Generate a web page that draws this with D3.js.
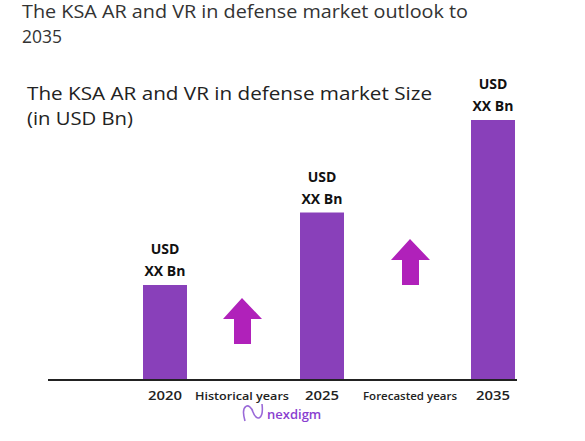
<!DOCTYPE html>
<html><head><meta charset="utf-8">
<script src="https://cdn.jsdelivr.net/npm/d3@7"></script>
<style>body{margin:0;background:#fff}text{font-family:"Open Sans",sans-serif}</style>
</head><body><svg id="c" width="585" height="441"></svg>
<script>
var years = ["2020", "2025", "2035"];
var values = [1.9, 3.35, 5.2];
var valueLabels = ["XX Bn", "XX Bn", "XX Bn"];
var gapLabels = ["Historical years", "Forecasted years"];
var arrowLevels = [1.64, 2.82]; // arrow tip heights, same units as values

var svg = d3.select("#c");
var base = 380;
var y = d3.scaleLinear().domain([0, 5.2]).range([base, 120]);
// bands: bar, gap, bar, gap, bar
var x = d3.scaleOrdinal().domain(["2020", gapLabels[0], "2025", gapLabels[1], "2035"])
    .range([165, 242, 322, 410, 493]);
var barW = 44;

function title(txt, tx, ty, len, col) {
  svg.append("text").attr("x", tx).attr("y", ty).attr("font-size", 17.5).attr("fill", col)
      .attr("textLength", len).attr("lengthAdjust", "spacingAndGlyphs").text(txt);
}
title("The KSA AR and VR in defense market outlook to", 22, 18, 446, "#333");
title("2035", 22, 43, 40, "#333");
title("The KSA AR and VR in defense market Size", 27, 100, 405, "#222");
title("(in USD Bn)", 27, 125, 106, "#222");

svg.selectAll("rect.bar").data(years).enter().append("rect").attr("class", "bar")
    .attr("x", function(d) { return x(d) - barW / 2; })
    .attr("y", function(d, i) { return y(values[i]); })
    .attr("width", barW)
    .attr("height", function(d, i) { return base - y(values[i]); })
    .attr("fill", "#8940ba");

years.forEach(function(d, i) {
  var t = y(values[i]);
  svg.append("text").attr("x", x(d)).attr("y", t - 31).attr("text-anchor", "middle")
      .attr("font-size", 14).attr("font-weight", "bold").attr("fill", "#111").text("USD");
  svg.append("text").attr("x", x(d)).attr("y", t - 9).attr("text-anchor", "middle")
      .attr("font-size", 14).attr("font-weight", "bold").attr("fill", "#111").text(valueLabels[i]);
});

// arrows
gapLabels.forEach(function(g, i) {
  var cx = x(g), tip = y(arrowLevels[i]);
  svg.append("path").attr("fill", "#b021ba")
    .attr("d", "M" + cx + "," + tip + "L" + (cx + 20) + "," + (tip + 21) + "L" + (cx + 9) + "," + (tip + 21) +
      "L" + (cx + 9) + "," + (tip + 46) + "L" + (cx - 8) + "," + (tip + 46) + "L" + (cx - 8) + "," + (tip + 21) +
      "L" + (cx - 19) + "," + (tip + 21) + "Z");
});

svg.append("line").attr("x1", 48).attr("x2", 517).attr("y1", base).attr("y2", base)
    .attr("stroke", "#222").attr("stroke-width", 2);

x.domain().forEach(function(d) {
  var isYear = years.indexOf(d) >= 0;
  svg.append("text").attr("x", x(d)).attr("y", 400).attr("text-anchor", "middle")
      .attr("font-size", isYear ? 13 : 11.5).attr("font-weight", "600").attr("fill", "#222")
      .attr("textLength", isYear ? 34 : (d.length > 16 ? 104 : 94)).attr("lengthAdjust", "spacingAndGlyphs")
      .text(d);
});

// logo
svg.append("path").attr("d", "M245,421 C240,404 250,402 253,412 C256,421 264,421 262,404")
    .attr("fill", "none").attr("stroke", "#9a6ad8").attr("stroke-width", 1.6);
svg.append("text").attr("x", 267).attr("y", 419).attr("font-size", 13).attr("font-weight", "600")
    .attr("fill", "#8a3fd0").text("nexdigm");
</script></body></html>
